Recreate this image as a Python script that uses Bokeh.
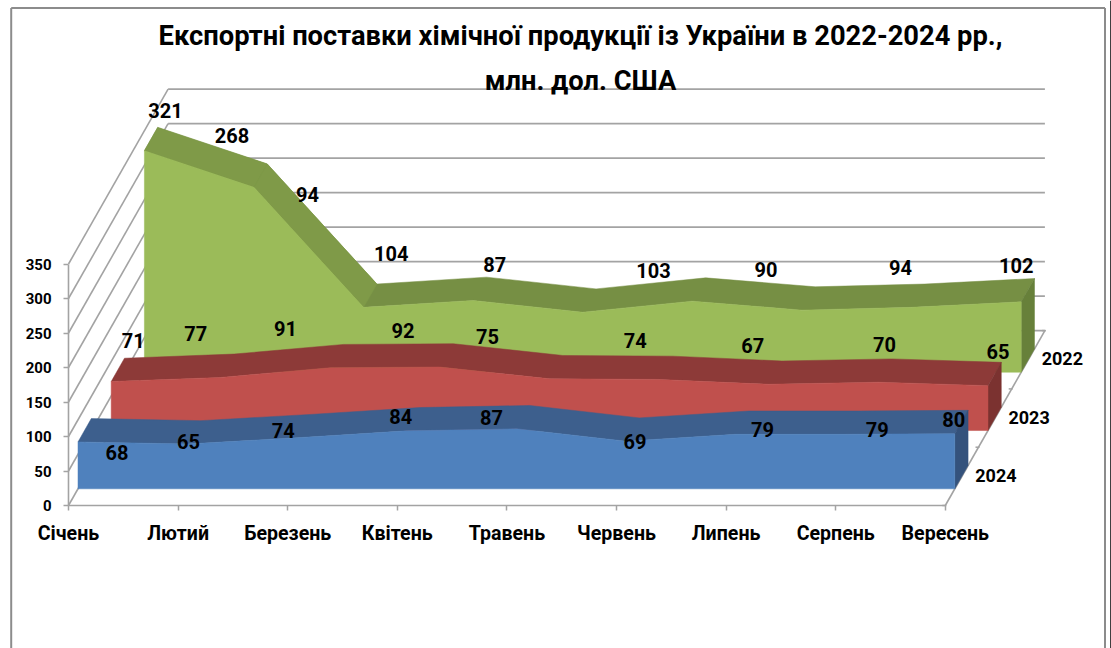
from bokeh.plotting import figure
from bokeh.models import ColumnDataSource, FixedTicker, Range1d
from bokeh.core.properties import value
from bokeh.embed import file_html
from bokeh.resources import INLINE

months = ["Січень", "Лютий", "Березень", "Квітень", "Травень", "Червень", "Липень", "Серпень", "Вересень"]
years = ["2024", "2023", "2022"]
v2024 = [68, 65, 74, 84, 87, 69, 79, 79, 80]
v2023 = [71, 77, 91, 92, 75, 74, 67, 70, 65]
v2022 = [321, 268, 94, 104, 87, 103, 90, 94, 102]
y_ticks = [0, 50, 100, 150, 200, 250, 300, 350]
title_lines = ["Експортні поставки хімічної продукції із України в 2022-2024 рр.,", "млн. дол. США"]

# ---- projection (layout, not data)
W, H = 1111, 648
PX_M, PX_V = 109.6, 0.69          # pixels per month / per value unit
X0, Y0 = 68.0, 505.0              # page pixel of month 0, value 0
SER_DX, SER_DY = 33.2, -58.3      # pixel shift per series along the depth axis
GAP_F, GAP_D = 0.286, 0.40        # front gap and thickness, as part of a series' depth
FONT_NAME = "Roboto"
FONT = value(FONT_NAME)

def to_x(px): return (px - X0) / PX_M
def to_y(py): return (Y0 - py) / PX_V
def ddx(d): return d * SER_DX / PX_M
def ddy(d): return -d * SER_DY / PX_V

p = figure(width=W, height=H, output_backend="svg", toolbar_location=None,
           x_range=Range1d(to_x(0), to_x(W)), y_range=Range1d(to_y(H), to_y(0)),
           min_border=0, outline_line_color=None, background_fill_color="white", border_fill_color="white")
p.grid.visible = False

# page frame
GREY = "#a3a3a3"
p.segment([to_x(10.7), to_x(10.7), to_x(1104.5)], [to_y(7.5), to_y(7.5), to_y(7.5)],
          [to_x(1104.5), to_x(10.7), to_x(1104.5)], [to_y(7.5), to_y(648), to_y(648)],
          line_color="#8c8c8c", line_width=2)
p.segment([to_x(1110.5)], [to_y(0)], [to_x(1110.5)], [to_y(648)], line_color="black", line_width=1.5)

# walls and floor
D = 3.0
nm = len(months) - 1
wall = dict(x0=[], y0=[], x1=[], y1=[])
for t in y_ticks:
    wall["x0"] += [0, ddx(D)]
    wall["y0"] += [t, t + ddy(D)]
    wall["x1"] += [ddx(D), nm + ddx(D)]
    wall["y1"] += [t + ddy(D), t + ddy(D)]
# right edge of the floor
wall["x0"].append(nm); wall["y0"].append(0); wall["x1"].append(nm + ddx(D)); wall["y1"].append(ddy(D))
p.segment("x0", "y0", "x1", "y1", source=ColumnDataSource(wall), line_color=GREY, line_width=1.6)

# depth axis ticks on the right floor edge
tk = [0, 1, 2, 3]
p.segment([nm + ddx(d) - 3 / PX_M for d in tk], [ddy(d) for d in tk],
          [nm + ddx(d) + 1 / PX_M for d in tk], [ddy(d) for d in tk], line_color=GREY, line_width=1.5)

# values, series index, front colour, top colour, colour of steep top pieces, side colour
series = [
    (v2022, 2, "#9bbb59", "#768f44", "#7f9a48", "#67803a"),
    (v2023, 1, "#c0504d", "#8d3a38", "#8d3a38", "#7b3230"),
    (v2024, 0, "#4f81bd", "#3d5f8d", "#3d5f8d", "#34527c"),
]
for vals, i, front, top, steep, side in series:
    f = i + GAP_F
    b = f + GAP_D
    xf = [m + ddx(f) for m in range(len(vals))]
    yf = [v + ddy(f) for v in vals]
    xb = [m + ddx(b) for m in range(len(vals))]
    yb = [v + ddy(b) for v in vals]
    base = ddy(f)
    # top strip
    p.patch(xf + xb[::-1], yf + yb[::-1], fill_color=top, line_color=top, line_width=0.5)
    big = [k for k in range(nm) if abs(vals[k + 1] - vals[k]) > 40]
    if big:
        p.patches([[xf[k], xf[k + 1], xb[k + 1], xb[k]] for k in big],
                  [[yf[k], yf[k + 1], yb[k + 1], yb[k]] for k in big],
                  fill_color=steep, line_color=steep, line_width=0.5)
    # side
    p.patch([xf[-1], xb[-1], xb[-1], xf[-1]], [yf[-1], yb[-1], ddy(b), base],
            fill_color=side, line_color=side, line_width=0.5)
    # front
    p.patch([xf[0]] + xf + [xf[-1]], [base] + yf + [base], fill_color=front, line_color=front, line_width=0.5)

# axes
ax = p.xaxis[0]
ax.fixed_location = 0
ax.bounds = (0, nm)
ax.ticker = FixedTicker(ticks=list(range(len(months))))
ax.major_label_overrides = {i: m for i, m in enumerate(months)}
ay = p.yaxis[0]
ay.fixed_location = 0
ay.bounds = (0, y_ticks[-1])
ay.ticker = FixedTicker(ticks=y_ticks)
for a, fs, so in ((ax, "19.6px", 11), (ay, "15px", 12)):
    a.axis_line_color = GREY
    a.axis_line_width = 1.6
    a.major_tick_line_color = GREY
    a.major_tick_line_width = 1.5
    a.major_tick_in = 0
    a.major_tick_out = 5
    a.minor_tick_line_color = None
    a.major_label_text_font = FONT_NAME
    a.major_label_text_font_style = "bold"
    a.major_label_text_font_size = fs
    a.major_label_text_color = "black"
    a.major_label_standoff = so

# data labels: nudges in pixels from each front top corner
nudge = {
    2: [(21, -40), (-22, -52), (-56, -113), (-82, -47), (-88, -48), (-39, -31), (-36, -41), (-11, -40), (-5, -36)],
    1: [(22, -41), (-25, -44), (-45, -39), (-37, -37), (-62, -42), (-24, -39), (-16, -39), (6, -38), (10, -34)],
    0: [(39, 11), (1, -2), (-14, -7), (-6, -14), (-25, -11), (9, 0), (27, -5), (32, -5), (-1, -14)],
}
for vals, i, *_ in series:
    f = i + GAP_F
    xs = [m + ddx(f) + nudge[i][m][0] / PX_M for m in range(len(vals))]
    ys = [v + ddy(f) - nudge[i][m][1] / PX_V for m, v in enumerate(vals)]
    p.text(xs, ys, text=[str(v) for v in vals], text_font=FONT, text_font_style="bold",
           text_font_size="20px", text_color="black", text_align="center", text_baseline="middle")

# depth axis labels
p.text([nm + ddx(i + 0.5) + 34 / PX_M for i in range(3)],
       [ddy(i + 0.5) + 1 / PX_V for i in range(3)], text=years, text_font=FONT, text_font_style="bold",
       text_font_size="18px", text_color="black", text_align="center", text_baseline="middle")

# title
p.text([to_x(580), to_x(580)], [to_y(35), to_y(80)], text=title_lines, text_font=FONT, text_font_style="bold",
       text_font_size="27.3px", text_color="black", text_align="center", text_baseline="middle")

open("out.html", "w").write(file_html(p, INLINE))
